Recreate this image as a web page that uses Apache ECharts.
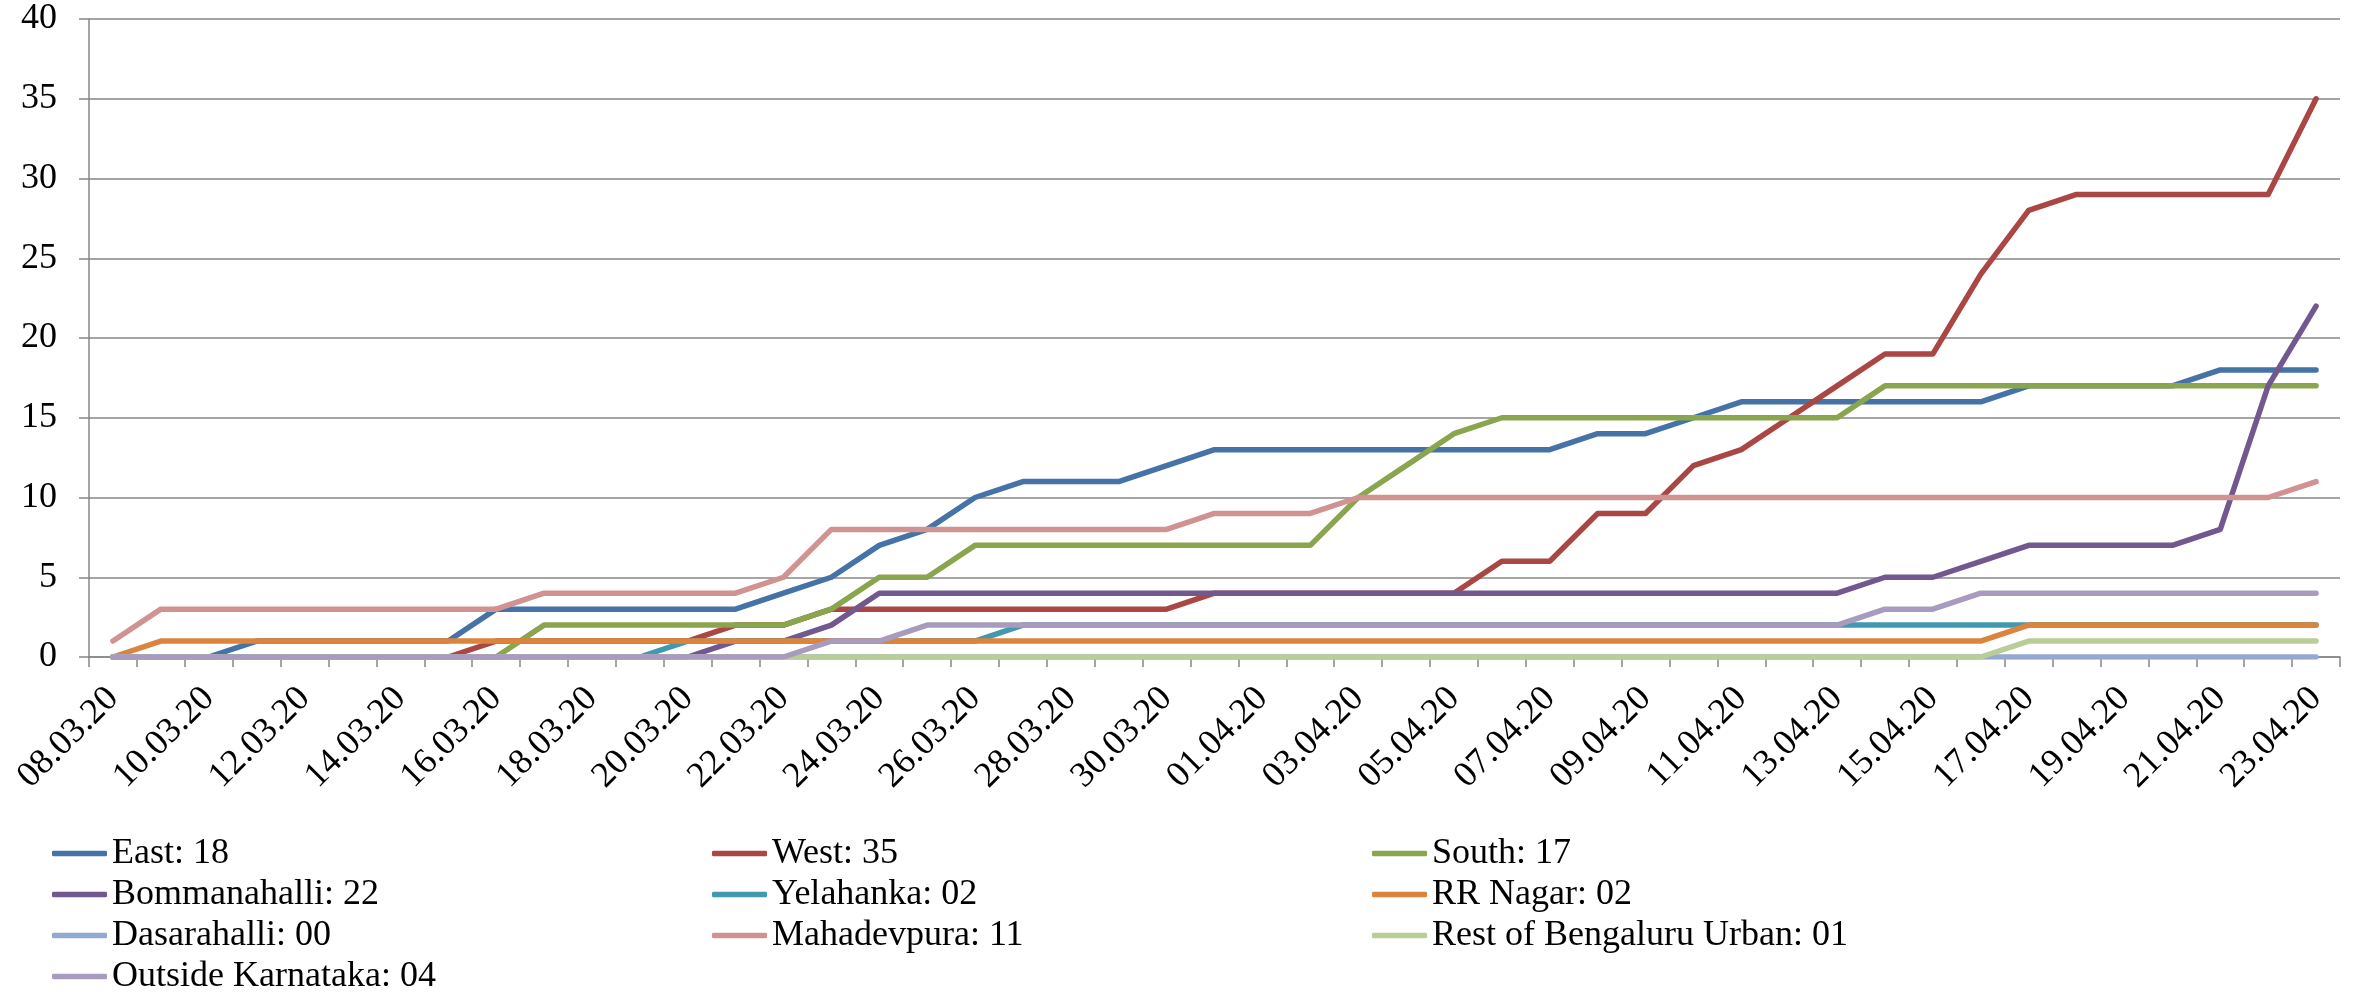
<!DOCTYPE html>
<html><head><meta charset="utf-8">
<script src="https://cdn.jsdelivr.net/npm/echarts@6/dist/echarts.min.js"></script>
<style>html,body{margin:0;padding:0;background:#fff}#c{width:2369px;height:997px}</style>
</head><body><div id="c"></div>
<script>
const dates = ['08.03.20','09.03.20','10.03.20','11.03.20','12.03.20','13.03.20','14.03.20','15.03.20','16.03.20','17.03.20','18.03.20','19.03.20','20.03.20','21.03.20','22.03.20','23.03.20','24.03.20','25.03.20','26.03.20','27.03.20','28.03.20','29.03.20','30.03.20','31.03.20','01.04.20','02.04.20','03.04.20','04.04.20','05.04.20','06.04.20','07.04.20','08.04.20','09.04.20','10.04.20','11.04.20','12.04.20','13.04.20','14.04.20','15.04.20','16.04.20','17.04.20','18.04.20','19.04.20','20.04.20','21.04.20','22.04.20','23.04.20'];

const east = [0,0,0,1,1,1,1,1,3,3,3,3,3,3,4,5,7,8,10,11,11,11,12,13,13,13,13,13,13,13,13,14,14,15,16,16,16,16,16,16,17,17,17,17,18,18,18];
const west = [0,0,0,0,0,0,0,0,1,1,1,1,1,2,2,3,3,3,3,3,3,3,3,4,4,4,4,4,4,6,6,9,9,12,13,15,17,19,19,24,28,29,29,29,29,29,35];
const south = [0,0,0,0,0,0,0,0,0,2,2,2,2,2,2,3,5,5,7,7,7,7,7,7,7,7,10,12,14,15,15,15,15,15,15,15,15,17,17,17,17,17,17,17,17,17,17];
const bommanahalli = [0,0,0,0,0,0,0,0,0,0,0,0,0,1,1,2,4,4,4,4,4,4,4,4,4,4,4,4,4,4,4,4,4,4,4,4,4,5,5,6,7,7,7,7,8,17,22];
const yelahanka = [0,0,0,0,0,0,0,0,0,0,0,0,1,1,1,1,1,1,1,2,2,2,2,2,2,2,2,2,2,2,2,2,2,2,2,2,2,2,2,2,2,2,2,2,2,2,2];
const rrNagar = [0,1,1,1,1,1,1,1,1,1,1,1,1,1,1,1,1,1,1,1,1,1,1,1,1,1,1,1,1,1,1,1,1,1,1,1,1,1,1,1,2,2,2,2,2,2,2];
const dasarahalli = [0,0,0,0,0,0,0,0,0,0,0,0,0,0,0,0,0,0,0,0,0,0,0,0,0,0,0,0,0,0,0,0,0,0,0,0,0,0,0,0,0,0,0,0,0,0,0];
const mahadevpura = [1,3,3,3,3,3,3,3,3,4,4,4,4,4,5,8,8,8,8,8,8,8,8,9,9,9,10,10,10,10,10,10,10,10,10,10,10,10,10,10,10,10,10,10,10,10,11];
const restUrban = [0,0,0,0,0,0,0,0,0,0,0,0,0,0,0,0,0,0,0,0,0,0,0,0,0,0,0,0,0,0,0,0,0,0,0,0,0,0,0,0,1,1,1,1,1,1,1];
const outsideKarnataka = [0,0,0,0,0,0,0,0,0,0,0,0,0,0,0,1,1,2,2,2,2,2,2,2,2,2,2,2,2,2,2,2,2,2,2,2,2,3,3,4,4,4,4,4,4,4,4];

const names = ['East: 18','West: 35','South: 17','Bommanahalli: 22','Yelahanka: 02','RR Nagar: 02','Dasarahalli: 00','Mahadevpura: 11','Rest of Bengaluru Urban: 01','Outside Karnataka: 04'];
const values = [east, west, south, bommanahalli, yelahanka, rrNagar, dasarahalli, mahadevpura, restUrban, outsideKarnataka];
const colors = ['#4572A7','#AA4643','#89A54E','#71588F','#4198AF','#DB843D','#93A9CF','#D19392','#B9CD96','#A99BBD'];

const FONT = '"Liberation Serif", "Times New Roman", serif';
const gray = '#878787';

const legendBase = {
  orient: 'vertical', padding: 0, itemGap: 0, itemWidth: 55, itemHeight: 5.5,
  icon: 'roundRect', top: 833, selectedMode: false,
  textStyle: {fontFamily: FONT, fontSize: 36, color: '#000', lineHeight: 41, padding: [0,0,0,0]}
};

const chart = echarts.init(document.getElementById('c'), null, {renderer: 'canvas'});
chart.setOption({
  animation: false,
  color: colors,
  textStyle: {fontFamily: FONT},
  grid: {left: 89, right: 29, top: 19, bottom: 340, containLabel: false},
  legend: [
    Object.assign({}, legendBase, {left: 52, data: [names[0], names[3], names[6], names[9]]}),
    Object.assign({}, legendBase, {left: 712, data: [names[1], names[4], names[7]]}),
    Object.assign({}, legendBase, {left: 1372, data: [names[2], names[5], names[8]]})
  ],
  xAxis: {
    type: 'category', data: dates, boundaryGap: true,
    axisLine: {show: true, lineStyle: {color: gray, width: 1.5}},
    axisTick: {show: true, interval: 0, length: 10, lineStyle: {color: gray, width: 1.5}},
    axisLabel: {interval: 1, rotate: 45, margin: 36, fontFamily: FONT, fontSize: 36, color: '#000'},
    splitLine: {show: false}
  },
  yAxis: {
    type: 'value', min: 0, max: 40, interval: 5,
    axisLine: {show: true, lineStyle: {color: gray, width: 1.5}},
    axisTick: {show: true, length: 10, lineStyle: {color: gray, width: 1.5}},
    axisLabel: {margin: 32, fontFamily: FONT, fontSize: 36, color: '#000'},
    splitLine: {show: true, lineStyle: {color: gray, width: 1.5}}
  },
  series: names.map((n, k) => ({
    name: n, type: 'line', data: values[k], symbol: 'none', showSymbol: false,
    lineStyle: {width: 5.5, color: colors[k], cap: 'round', join: 'round'},
    itemStyle: {color: colors[k]}
  }))
});
</script></body></html>
